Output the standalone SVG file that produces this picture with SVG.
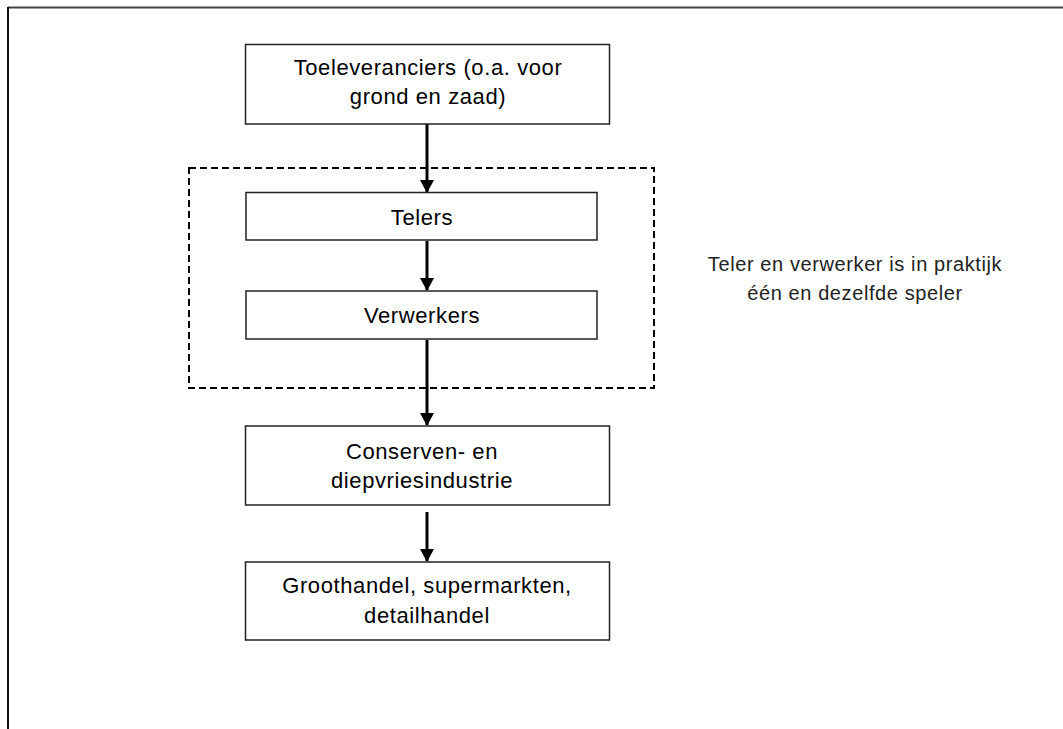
<svg xmlns="http://www.w3.org/2000/svg" width="1063" height="729" viewBox="0 0 1063 729">
<style>
.box{fill:#fff;stroke:#222;stroke-width:1.5}
.t{font-family:"Liberation Sans",Arial,sans-serif;font-size:22px;letter-spacing:0.6px;fill:#000;text-anchor:middle}
.note{font-family:"Liberation Sans",Arial,sans-serif;font-size:20px;letter-spacing:0.6px;fill:#222;text-anchor:middle}
.conn{stroke:#000;stroke-width:3;fill:none;marker-end:url(#ah)}
</style>
<defs>
<marker id="ah" markerUnits="userSpaceOnUse" markerWidth="14" markerHeight="16" refX="12" refY="7" orient="auto">
<path d="M0,0 L13,7 L0,14 Z" fill="#000"/>
</marker>
</defs>
<g id="frame">
<line x1="8" y1="7.5" x2="1063" y2="7.5" stroke="#444" stroke-width="2"/>
<line x1="8" y1="7" x2="8" y2="729" stroke="#111" stroke-width="2"/>
</g>
<g id="group-dashed">
<rect x="189" y="168" width="465" height="220" fill="none" stroke="#000" stroke-width="2" stroke-dasharray="7,4"/>
</g>
<g id="connectors">
<line class="conn" x1="427" y1="124" x2="427" y2="192"/>
<line class="conn" x1="427" y1="241" x2="427" y2="290"/>
<line class="conn" x1="427" y1="340" x2="427" y2="425"/>
<line class="conn" x1="427" y1="512" x2="427" y2="561"/>
</g>
<g id="n-toeleveranciers">
<rect class="box" x="245.5" y="44.5" width="364" height="79.5"/>
<text class="t" x="428" y="75">Toeleveranciers (o.a. voor</text>
<text class="t" x="428" y="104">grond en zaad)</text>
</g>
<g id="n-telers">
<rect class="box" x="246" y="192.5" width="351" height="47.5"/>
<text class="t" x="422" y="225">Telers</text>
</g>
<g id="n-verwerkers">
<rect class="box" x="246" y="291" width="351" height="48"/>
<text class="t" x="422" y="323">Verwerkers</text>
</g>
<g id="n-conserven">
<rect class="box" x="245.5" y="426" width="364" height="79"/>
<text class="t" x="422" y="459">Conserven- en</text>
<text class="t" x="422" y="488">diepvriesindustrie</text>
</g>
<g id="n-groothandel">
<rect class="box" x="245.5" y="562" width="364" height="78"/>
<text class="t" x="427" y="593">Groothandel, supermarkten,</text>
<text class="t" x="427" y="623">detailhandel</text>
</g>
<g id="note">
<text class="note" x="855" y="271">Teler en verwerker is in praktijk</text>
<text class="note" x="855" y="300">één en dezelfde speler</text>
</g>
</svg>
